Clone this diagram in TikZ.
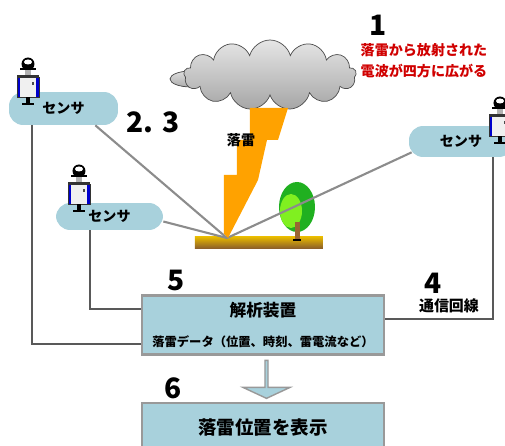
\documentclass[tikz,border=0pt]{standalone}
\usepackage{fontspec}
\newfontfamily\jpfont{Noto Sans CJK JP}
\usetikzlibrary{calc,shapes.symbols,shapes.arrows}

\definecolor{panel}{HTML}{A8D1DC}
\definecolor{wire}{HTML}{8C8C8C}
\definecolor{boltc}{HTML}{FFA200}
\definecolor{alert}{HTML}{D00000}
\definecolor{leafd}{HTML}{20B020}
\definecolor{leafl}{HTML}{80F020}

\tikzset{
  pill/.style={fill=panel, rounded corners=8pt, inner sep=0pt,
    font=\jpfont\bfseries\fontsize{8}{9}\selectfont},
  board/.style={fill=panel, draw=gray!80, line width=1.2pt, inner sep=0pt,
    minimum width=4.84cm, align=center},
  ray/.style={draw=wire, line width=1.2pt},
  link/.style={draw=gray!70!black, line width=1.1pt},
  num/.style={font=\jpfont\bfseries\fontsize{16}{16}\selectfont},
  jp/.style={font=\jpfont\bfseries\fontsize{#1}{#1}\selectfont},
  sensor/.pic={
    \fill[black] (0,7) circle (6.5);
    \fill[white] (0,5) ellipse (4 and 2.5);
    \fill[black] (-8,11) rectangle (8,13);
    \fill[gray!60] (-3,13) rectangle (3,18);
    \fill[black!80] (-11,18) rectangle (11,20);
    \fill[gray!12] (-11,20) rectangle (11,40);
    \fill[blue!80!black] (-11,20) rectangle (-8,40);
    \fill[blue!80!black] (8,20) rectangle (11,40);
    \fill[gray!60!black] (4,25) rectangle (6,28);
    \draw[black!80, line width=0.4pt] (-11,20) rectangle (11,40);
    \fill[black] (-2,40) rectangle (2,46);
    \fill[black] (-6,46) rectangle (6,48);
  }
}

\begin{document}
\begin{tikzpicture}[x=0.02cm, y=-0.02cm]
\useasboundingbox (0,0) rectangle (505,446);
\clip (0,0) rectangle (505,446);

% thundercloud
\filldraw[draw=gray!60!black, top color=gray!25, bottom color=gray!65] (191,79) ellipse (21 and 8);
\node[cloud, cloud puffs=13, aspect=2.5, minimum width=3.45cm, minimum height=1.4cm,
  draw=gray!60!black, top color=gray!20, bottom color=gray!70] (cloud) at (270,75) {};

% ground and tree
\shade[top color=yellow!60!orange!90!black, bottom color=brown!70!black] (195,237) rectangle (323,249);
\fill[leafd] (297,207) ellipse (18 and 25);
\fill[leafl] (291,211) ellipse (11 and 17);
\fill[brown!80!black] (295,222) rectangle (300,240);
\fill[black] (293,239) rectangle (301,241);
\coordinate (strike) at (227,238);

% sensors
\node[pill, minimum width=2.18cm, minimum height=0.66cm] (s1) at (63.5,108.5) {センサ};
\node[pill, minimum width=2.14cm, minimum height=0.54cm] (s2) at (109.5,216.5) {センサ};
\node[pill, minimum width=2.08cm, minimum height=0.62cm] (s3) at (461,141.5) {センサ};
\pic at (28,57) {sensor};
\pic at (79,164) {sensor};
\pic at (500,96) {sensor};

\draw[ray] (strike) -- ($(s1.south east)+(-23,0)$);
\draw[ray] (strike) -- ($(s2.east)+(0,5)$);
\draw[ray] (strike) -- ($(s3.south west)+(3,-5)$);

% lightning
\fill[boltc] (250,108) -- (288,108) -- (278,140) -- (267,140) -- (258,180)
  -- (228,238) -- (224,234) -- (224,175) -- (237,175) -- (237,140) -- (250,140) -- cycle;
\node[jp=8] (boltlabel) at (241,140) {落雷};

% analysis and display
\node[board, minimum height=1.18cm] (analyzer) at (263,325)
  {{\jpfont\bfseries\fontsize{9.5}{10}\selectfont 解析装置}\\[5pt]
   {\jpfont\bfseries\fontsize{7}{8}\selectfont 落雷データ（位置、時刻、雷電流など）}};
\node[board, minimum height=1.0cm, jp=10.5] (display) at (263,428) {落雷位置を表示};
\node[single arrow, shape border rotate=270, fill=panel, draw=gray!80, line width=0.8pt,
  minimum width=0.94cm, minimum height=0.76cm, single arrow head extend=0.2cm,
  single arrow tip angle=130, inner sep=0pt] (flow) at (266.5,379) {};

\draw[link] ($(s1.south west)+(23,0)$) |- ($(analyzer.south west)+(0,-12)$);
\draw[link] ($(s2.south west)+(34,0)$) |- ($(analyzer.north west)+(0,15)$);
\draw[link] ($(s3.south west)+(84,0)$) |- ($(analyzer.north east)+(0,25)$);

% captions
\node[num] (n1) at (378,25) {1};
\node[jp=8, text=alert, align=center] (emit) at (424,61)
  {落雷から放射された\\[4pt]電波が四方に広がる};
\node[num] (n23) at (153,122) {2.\,\,3};
\node[num] (n5) at (176,280) {5};
\node[num] (n4) at (433,283) {4};
\node[jp=8.5] (line) at (449,306) {通信回線};
\node[num] (n6) at (173,388) {6};
\end{tikzpicture}
\end{document}
